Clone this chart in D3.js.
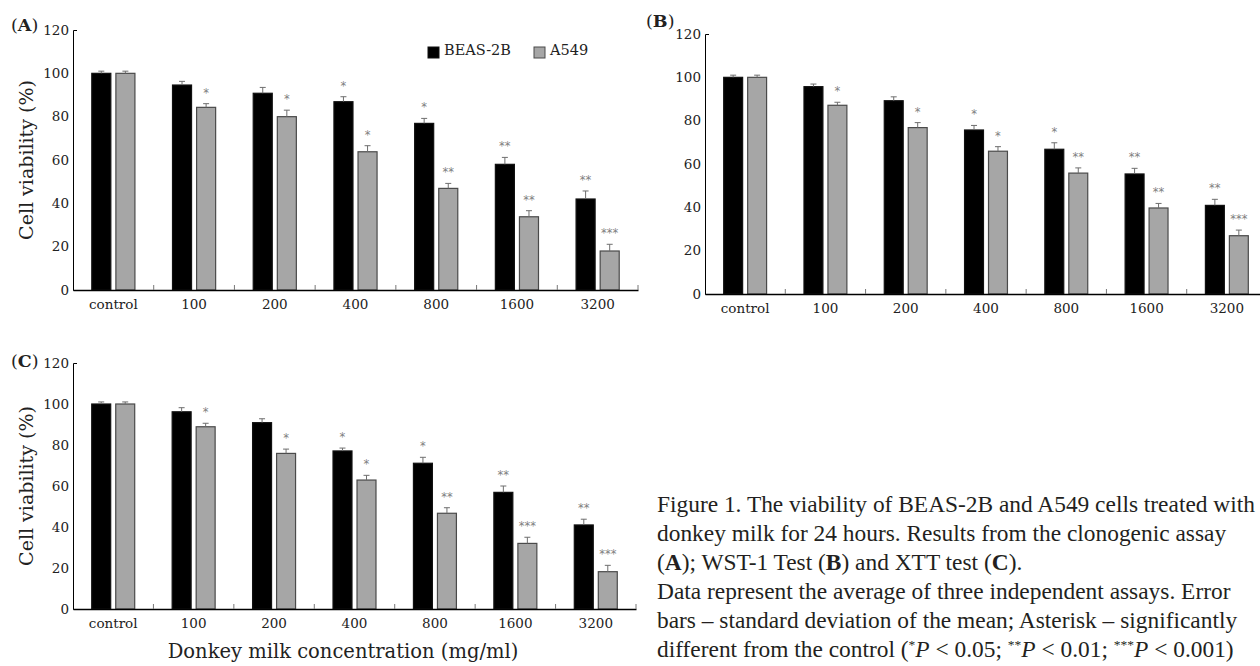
<!DOCTYPE html>
<html>
<head>
<meta charset="utf-8">
<script src="https://cdn.jsdelivr.net/npm/d3@7"></script>
<style>
  body { margin: 0; background: #fff; }
  svg { display: block; }
  .tick text { font-family: "DejaVu Serif", serif; font-size: 13.5px; fill: #222; }
</style>
</head>
<body>
<div id="chart"></div>
<script>
// categories and series
var categories = ["control", "100", "200", "400", "800", "1600", "3200"];
var series = ["BEAS-2B", "A549"];
var yTicks = [0, 20, 40, 60, 80, 100, 120];

// (A) clonogenic assay
var beasA = [100, 94.6, 90.8, 86.9, 76.9, 58, 42];
var beasErrA = [1, 1.7, 2.7, 2.3, 2.3, 3.2, 3.7];
var a549A = [100, 84.3, 80, 63.8, 46.9, 33.8, 18];
var a549ErrA = [1, 1.7, 3, 2.8, 2.3, 2.8, 3.1];
var beasStarsA = ["", "", "", "*", "*", "**", "**"];
var a549StarsA = ["", "*", "*", "*", "**", "**", "***"];

// (B) WST-1 test
var beasB = [100, 95.7, 89.2, 75.7, 66.8, 55.4, 40.9];
var beasErrB = [1, 1.2, 1.8, 2.1, 3, 2.6, 2.8];
var a549B = [100, 87.1, 76.8, 65.9, 55.8, 39.7, 26.9];
var a549ErrB = [1, 1.4, 2.3, 2.1, 2.4, 2.1, 2.6];
var beasStarsB = ["", "", "", "*", "*", "**", "**"];
var a549StarsB = ["", "*", "*", "*", "**", "**", "***"];

// (C) XTT test
var beasC = [100, 96.2, 90.9, 77.1, 71.1, 56.9, 41];
var beasErrC = [1, 2, 1.9, 1.4, 2.9, 3.1, 2.8];
var a549C = [100, 88.9, 75.9, 62.9, 46.7, 32, 18.2];
var a549ErrC = [1, 1.7, 2.1, 2.3, 2.7, 3, 3.1];
var beasStarsC = ["", "", "", "*", "*", "**", "**"];
var a549StarsC = ["", "*", "*", "*", "**", "***", "***"];

var captionLines = [
  "Figure 1. The viability of BEAS-2B and A549 cells treated with",
  "donkey milk for 24 hours. Results from the clonogenic assay",
  "(A); WST-1 Test (B) and XTT test (C).",
  "Data represent the average of three independent assays. Error",
  "bars \u2013 standard deviation of the mean; Asterisk \u2013 significantly",
  "different from the control (*P < 0.05; **P < 0.01; ***P < 0.001)"
];

var colors = {"BEAS-2B": "#000000", "A549": "#a6a6a6"};
var strokes = {"BEAS-2B": "#111111", "A549": "#4a4a4a"};

var svg = d3.select("#chart").append("svg")
  .attr("width", 1260)
  .attr("height", 666);

function rows(beas, beasErr, a549, a549Err, beasStars, a549Stars) {
  return categories.map(function(c, i) {
    return {
      cat: c,
      vals: [
        {s: "BEAS-2B", v: beas[i], e: beasErr[i], star: beasStars[i]},
        {s: "A549", v: a549[i], e: a549Err[i], star: a549Stars[i]}
      ]
    };
  });
}

function drawPanel(opt) {
  var g = svg.append("g");
  var x0 = d3.scaleBand().domain(categories).range([opt.left, opt.right]).padding(0);
  var x1 = d3.scaleBand().domain(series).range([0, x0.bandwidth()])
    .paddingInner(0.21).paddingOuter(0.78);
  var y = d3.scaleLinear().domain([0, 120]).range([opt.bottom, opt.top]);

  var groups = g.selectAll("g.grp")
    .data(opt.data)
    .enter().append("g")
    .attr("class", "grp")
    .attr("transform", function(d) { return "translate(" + x0(d.cat) + ",0)"; });

  var item = groups.selectAll("g.item")
    .data(function(d) { return d.vals; })
    .enter().append("g").attr("class", "item");

  item.append("rect")
    .attr("x", function(d) { return x1(d.s); })
    .attr("y", function(d) { return y(d.v); })
    .attr("width", x1.bandwidth())
    .attr("height", function(d) { return y(0) - y(d.v); })
    .attr("fill", function(d) { return colors[d.s]; })
    .attr("stroke", function(d) { return strokes[d.s]; })
    .attr("stroke-width", 1.2);

  // error bars (upper half only)
  item.append("line")
    .attr("x1", function(d) { return x1(d.s) + x1.bandwidth() / 2; })
    .attr("x2", function(d) { return x1(d.s) + x1.bandwidth() / 2; })
    .attr("y1", function(d) { return y(d.v); })
    .attr("y2", function(d) { return y(d.v + d.e); })
    .attr("stroke", "#6e6e6e").attr("stroke-width", 1);
  item.append("line")
    .attr("x1", function(d) { return x1(d.s) + x1.bandwidth() / 2 - 3; })
    .attr("x2", function(d) { return x1(d.s) + x1.bandwidth() / 2 + 3; })
    .attr("y1", function(d) { return y(d.v + d.e); })
    .attr("y2", function(d) { return y(d.v + d.e); })
    .attr("stroke", "#6e6e6e").attr("stroke-width", 1);

  // significance stars
  item.append("text")
    .attr("x", function(d) { return x1(d.s) + x1.bandwidth() / 2; })
    .attr("y", function(d) { return y(d.v + d.e) - 7; })
    .attr("text-anchor", "middle")
    .attr("font-family", "DejaVu Sans, sans-serif")
    .attr("font-size", 11.5)
    .attr("fill", "#808080")
    .text(function(d) { return d.star; });

  // y axis
  var yAxis = g.append("g")
    .attr("transform", "translate(" + opt.left + ",0)")
    .call(d3.axisLeft(y).tickValues(yTicks).tickSize(0).tickSizeOuter(-4).tickPadding(4));
  yAxis.select(".domain").attr("stroke", "#000").attr("stroke-width", 1);

  // x axis
  var xAxis = g.append("g")
    .attr("transform", "translate(0," + opt.bottom + ")")
    .call(d3.axisBottom(x0).tickSize(0).tickSizeOuter(0).tickPadding(9));
  xAxis.select(".domain").attr("stroke", "#000").attr("stroke-width", 1.6);

  // small upward ticks at the group boundaries
  g.selectAll("line.sep")
    .data(categories)
    .enter().append("line")
    .attr("class", "sep")
    .attr("x1", function(d) { return x0(d) + x0.bandwidth(); })
    .attr("x2", function(d) { return x0(d) + x0.bandwidth(); })
    .attr("y1", opt.bottom)
    .attr("y2", opt.bottom - 5)
    .attr("stroke", "#777").attr("stroke-width", 1);

  // panel label
  var lab = g.append("text")
    .attr("x", opt.labelX).attr("y", opt.labelY)
    .attr("font-family", "DejaVu Serif, serif")
    .attr("font-size", 17.5)
    .attr("fill", "#222");
  lab.append("tspan").text("(");
  lab.append("tspan").attr("font-weight", "bold").text(opt.label);
  lab.append("tspan").text(")");

  if (opt.yTitle) {
    g.append("text")
      .attr("transform", "translate(33," + ((opt.top + opt.bottom) / 2) + ") rotate(-90)")
      .attr("text-anchor", "middle")
      .attr("font-family", "DejaVu Serif, serif")
      .attr("font-size", 19)
      .attr("fill", "#222")
      .text("Cell viability (%)");
  }
  return {x0: x0, y: y};
}

drawPanel({
  data: rows(beasA, beasErrA, a549A, a549ErrA, beasStarsA, a549StarsA),
  left: 73, right: 638, top: 30, bottom: 290,
  label: "A", labelX: 11, labelY: 31, yTitle: true
});
drawPanel({
  data: rows(beasB, beasErrB, a549B, a549ErrB, beasStarsB, a549StarsB),
  left: 705, right: 1267, top: 34, bottom: 294,
  label: "B", labelX: 646, labelY: 27, yTitle: false
});
drawPanel({
  data: rows(beasC, beasErrC, a549C, a549ErrC, beasStarsC, a549StarsC),
  left: 73, right: 636, top: 363, bottom: 609,
  label: "C", labelX: 11, labelY: 367, yTitle: true
});

// legend for panel A
var legend = svg.append("g").attr("transform", "translate(428,47)");
var li = legend.selectAll("g")
  .data(series)
  .enter().append("g")
  .attr("transform", function(d, i) { return "translate(" + (i * 106) + ",0)"; });
li.append("rect")
  .attr("width", 11).attr("height", 11)
  .attr("fill", function(d) { return colors[d]; })
  .attr("stroke", function(d) { return strokes[d]; });
li.append("text")
  .attr("x", 16).attr("y", 8)
  .attr("font-family", "DejaVu Serif, serif")
  .attr("font-size", 14.5)
  .attr("fill", "#222")
  .text(function(d) { return d; });

// x axis title under panel C
svg.append("text")
  .attr("x", 343).attr("y", 658)
  .attr("text-anchor", "middle")
  .attr("font-family", "DejaVu Serif, serif")
  .attr("font-size", 19.5)
  .attr("fill", "#222")
  .text("Donkey milk concentration (mg/ml)");

// figure caption
var cap = svg.append("g")
  .attr("font-family", "Liberation Serif, serif")
  .attr("font-size", 23.4)
  .attr("fill", "#231f20");
cap.selectAll("text")
  .data(captionLines)
  .enter().append("text")
  .attr("x", 657)
  .attr("y", function(d, i) { return 512 + i * 29; })
  .each(function(d) {
    var t = d3.select(this);
    // bold panel letters and italic P with superscript stars
    var parts = d.split(/(\((?:A|B|C)\)|\*+P)/);
    parts.forEach(function(p) {
      var m = p.match(/^\(([ABC])\)$/);
      var s = p.match(/^(\*+)P$/);
      if (m) {
        t.append("tspan").text("(");
        t.append("tspan").attr("font-weight", "bold").text(m[1]);
        t.append("tspan").text(")");
      } else if (s) {
        t.append("tspan").attr("font-size", 13.5).attr("dy", -8).text(s[1]);
        t.append("tspan").attr("font-style", "italic").attr("dy", 8).text("P");
      } else if (p) {
        t.append("tspan").text(p);
      }
    });
  });
</script>
</body>
</html>
